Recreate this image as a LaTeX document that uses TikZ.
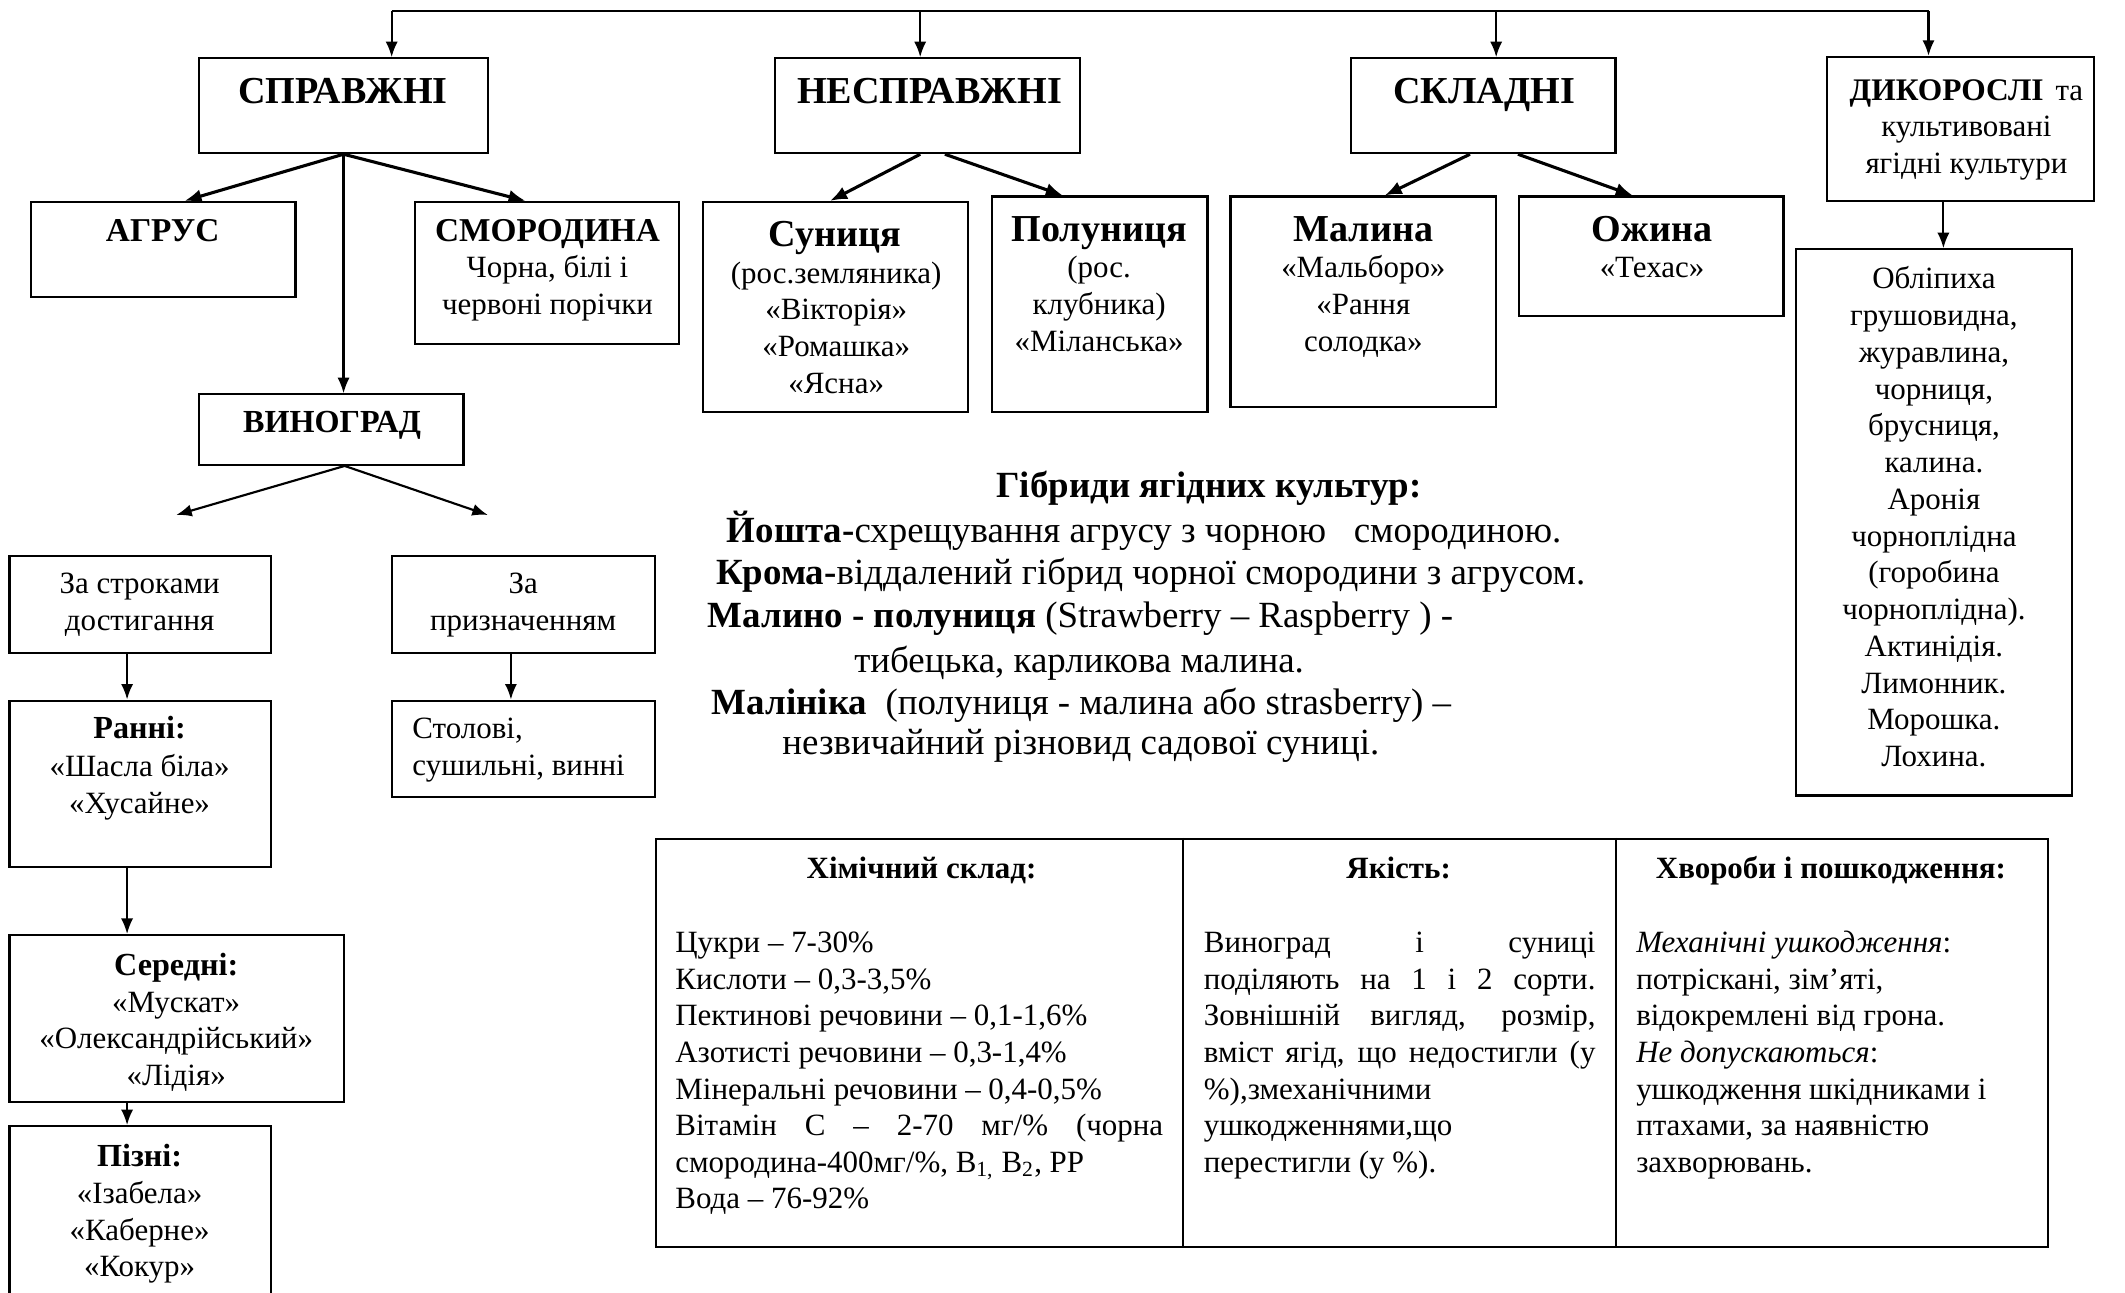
\documentclass[tikz,border=0pt]{standalone}
\usepackage{fontspec}
\setmainfont{Liberation Serif}
\usetikzlibrary{arrows.meta,fit,calc}
\tikzset{
  box/.style={draw, line width=0.9pt, inner sep=0pt},
  arr/.style={line width=0.9pt, -{Latex[length=2.3mm,width=1.8mm]}},
  darr/.style={line width=1.3pt, -{Latex[length=2.5mm,width=2mm]}},
  t/.style={inner sep=0pt, anchor=base, align=center, font=\fontsize{13}{15.37}\selectfont},
  tl/.style={inner sep=0pt, anchor=base west, align=left, font=\fontsize{13}{15.37}\selectfont},
  tb/.style={t, font=\fontsize{13.5}{15.37}\selectfont\bfseries},
  big/.style={t, font=\fontsize{16}{18}\selectfont\bfseries},
  hyb/.style={inner sep=0pt, anchor=base west, font=\fontsize{15.5}{18}\selectfont},
}
\begin{document}
\begin{tikzpicture}[x=0.02cm,y=-0.02cm]
\useasboundingbox (0,0) rectangle (1568,954);

% ---------- boxes ----------
\node[box, fit={(147,43) (360,113)}] (sprav) {};
\node[box, fit={(572,43) (797,113)}] (nespr) {};
\node[box, fit={(997,43) (1192,113)}] (skl) {};
\node[box, fit={(1348,42) (1545,148)}] (dik) {};
\node[box, fit={(23,149) (218,219)}] (agrus) {};
\node[box, fit={(306,149) (501,254)}] (smor) {};
\node[box, fit={(147,291) (342,343)}] (vin) {};
\node[box, fit={(519,149) (714,304)}] (sun) {};
\node[box, fit={(732,145) (891,304)}] (pol) {};
\node[box, fit={(908,145) (1104,300)}] (mal) {};
\node[box, fit={(1121,145) (1316,233)}] (ozh) {};
\node[box, fit={(1325,184) (1529,587)}] (obl) {};
\node[box, fit={(7,410) (200,482)}] (zs) {};
\node[box, fit={(7,517) (200,640)}] (ranni) {};
\node[box, fit={(7,690) (254,813)}] (ser) {};
\node[box, fit={(7,831) (200,980)}] (pizni) {};
\node[box, fit={(289,410) (483,482)}] (zp) {};
\node[box, fit={(289,517) (483,588)}] (stol) {};
\node[box, fit={(484,619) (1511,920)}] (tab) {};

% ---------- texts (multi-line nodes are placed at the baseline of their last line) ----------
\node[big] (tsprav) at (253,76) {СПРАВЖНІ};
\node[big] (tnespr) at (686,76) {НЕСПРАВЖНІ};
\node[big] (tskl) at (1095,76) {СКЛАДНІ};
\node[t] (tdik) at (1451,128) {\textbf{\fontsize{13.2}{15.37}\selectfont ДИКОРОСЛІ}\hspace{5pt}та\\культивовані\\ягідні культури};
\node[t, font=\fontsize{14}{15.37}\selectfont\bfseries] (tagrus) at (120,178) {АГРУС};
\node[t, font=\fontsize{14}{15.37}\selectfont\bfseries] (tsmor) at (404,178) {СМОРОДИНА};
\node[t] (tsmor2) at (404,232) {Чорна, білі і\\червоні порічки};
\node[tb] (tvin) at (245,319) {ВИНОГРАД};
\node[big] (tsun) at (616,182) {Суниця};
\node[t] (tsun2) at (617,290) {(рос.земляника)\\«Вікторія»\\«Ромашка»\\«Ясна»};
\node[big] (tpol) at (811,178) {Полуниця};
\node[t] (tpol2) at (811,259) {(рос.\\клубника)\\«Міланська»};
\node[big] (tmal) at (1006,178) {Малина};
\node[t] (tmal2) at (1006,259) {«Мальборо»\\«Рання\\солодка»};
\node[big] (tozh) at (1219,178) {Ожина};
\node[t] (tozh2) at (1219,205) {«Техас»};
\node[t, font=\fontsize{13}{15.43}\selectfont] (tobl) at (1427,565.6) {Обліпиха\\грушовидна,\\журавлина,\\чорниця,\\брусниця,\\калина.\\Аронія\\чорноплідна\\(горобина\\чорноплідна).\\Актинідія.\\Лимонник.\\Морошка.\\Лохина.};
\node[t] (tzs) at (103,465) {За строками\\достигання};
\node[tb] (tranni) at (103,545) {Ранні:};
\node[t] (tranni2) at (103,600) {«Шасла біла»\\«Хусайне»};
\node[tb] (tser) at (130,720) {Середні:};
\node[t] (tser2) at (130,801) {«Мускат»\\«Олександрійський»\\«Лідія»};
\node[tb] (tpizni) at (103,861) {Пізні:};
\node[t] (tpizni2) at (103,942) {«Ізабела»\\«Каберне»\\«Кокур»};
\node[t] (tzp) at (386,465) {За\\призначенням};
\node[tl] (tstol) at (304,572) {Столові,\\сушильні, винні};

% ---------- hybrids ----------
\node[hyb, anchor=base, font=\fontsize{15.5}{18}\selectfont\bfseries] (h0) at (892,367) {Гібриди ягідних культур:};
\node[hyb] (h1) at (536,400) {\textbf{Йошта-}схрещування агрусу з чорною\ \ \ смородиною.};
\node[hyb] (h2) at (528,431) {\textbf{Крома-}віддалений гібрид чорної смородини з агрусом.};
\node[hyb] (h3) at (522,463) {\textbf{Малино - полуниця} (Strawberry – Raspberry ) -};
\node[hyb] (h4) at (630,496) {тибецька, карликова малина.};
\node[hyb] (h5) at (525,527) {\textbf{Малініка}\ \ (полуниця - малина або strasberry) –};
\node[hyb] (h6) at (577,557) {незвичайний різновид садової суниці.};

% ---------- table ----------
\path ($(tab.north west)!0.3788!(tab.north east)$) coordinate (c1)
      ($(tab.north west)!0.6894!(tab.north east)$) coordinate (c2);
\draw[line width=0.9pt] (c1) -- (c1 |- tab.south);
\draw[line width=0.9pt] (c2) -- (c2 |- tab.south);
\node[tb, font=\fontsize{13}{15.37}\selectfont\bfseries] (th1) at (680,648) {Хімічний склад:};
\node[tb, font=\fontsize{13}{15.37}\selectfont\bfseries] (th2) at (1032,648) {Якість:};
\node[tb, font=\fontsize{13}{15.37}\selectfont\bfseries] (th3) at (1351,648) {Хвороби і пошкодження:};
\node[tl] (col1) at (498,892) {Цукри – 7-30\%\\Кислоти – 0,3-3,5\%\\Пектинові речовини – 0,1-1,6\%\\Азотисті речовини – 0,3-1,4\%\\Мінеральні речовини – 0,4-0,5\%\\\makebox[7.2cm][s]{Вітамін С – 2-70 мг/\% (чорна}\\смородина-400мг/\%, В\textsubscript{1,} В\textsubscript{2}, РР\\Вода – 76-92\%};
\node[tl] (col2) at (888,865) {\makebox[5.78cm][s]{Виноград і суниці}\\\makebox[5.78cm][s]{поділяють на 1 і 2 сорти.}\\\makebox[5.78cm][s]{Зовнішній вигляд, розмір,}\\\makebox[5.78cm][s]{вміст ягід, що недостигли (у}\\\%),змеханічними\\ушкодженнями,що\\перестигли (у \%).};
\node[tl] (col3) at (1207,865) {\textit{Механічні ушкодження}:\\потріскані, зім’яті,\\відокремлені від грона.\\\textit{Не допускаються}:\\ушкодження шкідниками і\\птахами, за наявністю\\захворювань.};

% ---------- connectors ----------
\coordinate (tA) at (289,8);
\coordinate (tB) at (679,8);
\coordinate (tC) at (1104,8);
\coordinate (tD) at (1423,8);
\draw[line width=0.9pt] (tA) -- (tD);
\draw[arr] (tA) -- (tA |- sprav.north);
\draw[arr] (tB) -- (tB |- nespr.north);
\draw[arr] (tC) -- (tC |- skl.north);
\draw[arr] (tD) -- (tD |- dik.north);

\draw[darr] (sprav.south) -- ($(agrus.north west)!0.58!(agrus.north east)$);
\draw[darr] (sprav.south) -- ($(smor.north west)!0.42!(smor.north east)$);
\draw[arr] (sprav.south) -- (sprav.south |- vin.north);

\draw[darr] ($(nespr.south west)!0.476!(nespr.south east)$) -- ($(sun.north west)!0.48!(sun.north east)$);
\draw[darr] ($(nespr.south west)!0.556!(nespr.south east)$) -- ($(pol.north west)!0.33!(pol.north east)$);
\draw[darr] ($(skl.south west)!0.45!(skl.south east)$) -- ($(mal.north west)!0.58!(mal.north east)$);
\draw[darr] ($(skl.south west)!0.63!(skl.south east)$) -- ($(ozh.north west)!0.43!(ozh.north east)$);
\draw[arr] ($(dik.south west)!0.437!(dik.south east)$) coordinate (d1) -- (d1 |- obl.north);

\coordinate (vl) at (130,380);
\coordinate (vr) at (360,380);
\draw[arr] ($(vin.south west)!0.55!(vin.south east)$) -- (vl);
\draw[arr] ($(vin.south west)!0.55!(vin.south east)$) -- (vr);

\draw[arr] ($(zs.south west)!0.45!(zs.south east)$) coordinate (g1) -- (g1 |- ranni.north);
\draw[arr] ($(ranni.south west)!0.45!(ranni.south east)$) coordinate (g2) -- (g2 |- ser.north);
\draw[arr] (g2 |- ser.south) -- (g2 |- pizni.north);
\draw[arr] ($(zp.south west)!0.454!(zp.south east)$) coordinate (g3) -- (g3 |- stol.north);
\end{tikzpicture}
\end{document}
